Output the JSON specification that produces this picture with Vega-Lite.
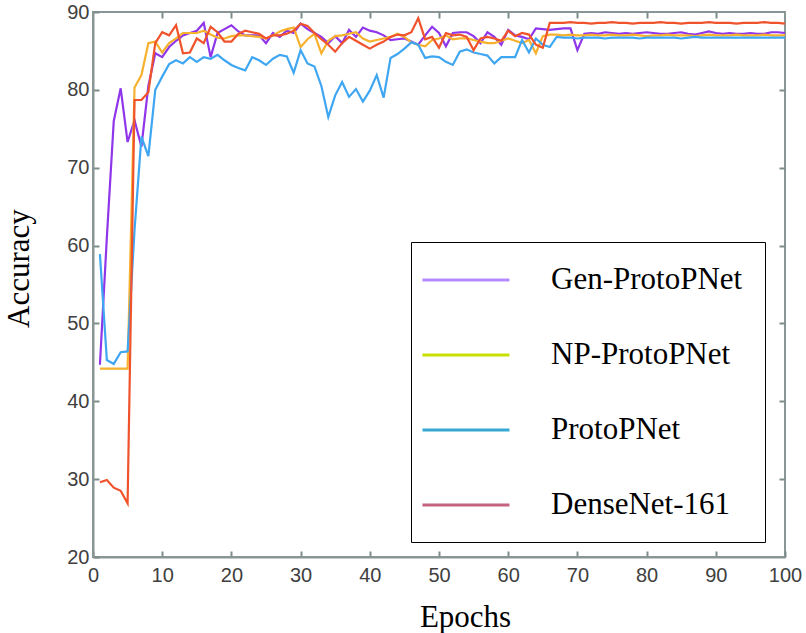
{
"$schema": "https://vega.github.io/schema/vega-lite/v6.json",
"width": 692, "height": 545,
"autosize": {"type": "none"},
"padding": {"left": 93, "top": 12, "right": 21, "bottom": 76},
"background": "white",
"config": {
 "view": {"stroke": "#8a9696", "strokeWidth": 2},
 "axis": {"grid": false, "labelFont": "Liberation Sans", "labelFontSize": 20, "labelColor": "#404040", "tickColor": "#7f8c8c", "tickWidth": 2, "domainColor": "#8a9696", "domainWidth": 2, "titleFont": "Liberation Serif", "titleFontSize": 31, "titleFontWeight": "normal", "titleColor": "black"}
},
"data": {"values": [
{"epoch":1,"model":"Gen-ProtoPNet","acc":44.7},{"epoch":2,"model":"Gen-ProtoPNet","acc":61},{"epoch":3,"model":"Gen-ProtoPNet","acc":76},{"epoch":4,"model":"Gen-ProtoPNet","acc":80.2},{"epoch":5,"model":"Gen-ProtoPNet","acc":73.3},{"epoch":6,"model":"Gen-ProtoPNet","acc":76.1},{"epoch":7,"model":"Gen-ProtoPNet","acc":72.7},{"epoch":8,"model":"Gen-ProtoPNet","acc":80.5},{"epoch":9,"model":"Gen-ProtoPNet","acc":84.7},{"epoch":10,"model":"Gen-ProtoPNet","acc":84.2},
{"epoch":11,"model":"Gen-ProtoPNet","acc":85.5},{"epoch":12,"model":"Gen-ProtoPNet","acc":86.3},{"epoch":13,"model":"Gen-ProtoPNet","acc":87},{"epoch":14,"model":"Gen-ProtoPNet","acc":87.3},{"epoch":15,"model":"Gen-ProtoPNet","acc":87.6},{"epoch":16,"model":"Gen-ProtoPNet","acc":88.6},{"epoch":17,"model":"Gen-ProtoPNet","acc":84.2},{"epoch":18,"model":"Gen-ProtoPNet","acc":87.3},{"epoch":19,"model":"Gen-ProtoPNet","acc":87.8},{"epoch":20,"model":"Gen-ProtoPNet","acc":88.3},
{"epoch":21,"model":"Gen-ProtoPNet","acc":87.5},{"epoch":22,"model":"Gen-ProtoPNet","acc":87},{"epoch":23,"model":"Gen-ProtoPNet","acc":87},{"epoch":24,"model":"Gen-ProtoPNet","acc":87},{"epoch":25,"model":"Gen-ProtoPNet","acc":86},{"epoch":26,"model":"Gen-ProtoPNet","acc":87.3},{"epoch":27,"model":"Gen-ProtoPNet","acc":86.8},{"epoch":28,"model":"Gen-ProtoPNet","acc":87.6},{"epoch":29,"model":"Gen-ProtoPNet","acc":87.3},{"epoch":30,"model":"Gen-ProtoPNet","acc":88.5},
{"epoch":31,"model":"Gen-ProtoPNet","acc":87.8},{"epoch":32,"model":"Gen-ProtoPNet","acc":87.3},{"epoch":33,"model":"Gen-ProtoPNet","acc":86.8},{"epoch":34,"model":"Gen-ProtoPNet","acc":86},{"epoch":35,"model":"Gen-ProtoPNet","acc":86.9},{"epoch":36,"model":"Gen-ProtoPNet","acc":86},{"epoch":37,"model":"Gen-ProtoPNet","acc":87.7},{"epoch":38,"model":"Gen-ProtoPNet","acc":86.8},{"epoch":39,"model":"Gen-ProtoPNet","acc":88},{"epoch":40,"model":"Gen-ProtoPNet","acc":87.6},
{"epoch":41,"model":"Gen-ProtoPNet","acc":87.4},{"epoch":42,"model":"Gen-ProtoPNet","acc":87},{"epoch":43,"model":"Gen-ProtoPNet","acc":86.4},{"epoch":44,"model":"Gen-ProtoPNet","acc":86.5},{"epoch":45,"model":"Gen-ProtoPNet","acc":86.6},{"epoch":46,"model":"Gen-ProtoPNet","acc":86.2},{"epoch":47,"model":"Gen-ProtoPNet","acc":85.8},{"epoch":48,"model":"Gen-ProtoPNet","acc":87},{"epoch":49,"model":"Gen-ProtoPNet","acc":88.1},{"epoch":50,"model":"Gen-ProtoPNet","acc":87.3},
{"epoch":51,"model":"Gen-ProtoPNet","acc":85.6},{"epoch":52,"model":"Gen-ProtoPNet","acc":87.3},{"epoch":53,"model":"Gen-ProtoPNet","acc":87.4},{"epoch":54,"model":"Gen-ProtoPNet","acc":87.4},{"epoch":55,"model":"Gen-ProtoPNet","acc":86.9},{"epoch":56,"model":"Gen-ProtoPNet","acc":86},{"epoch":57,"model":"Gen-ProtoPNet","acc":87.4},{"epoch":58,"model":"Gen-ProtoPNet","acc":86.8},{"epoch":59,"model":"Gen-ProtoPNet","acc":85.8},{"epoch":60,"model":"Gen-ProtoPNet","acc":87.7},
{"epoch":61,"model":"Gen-ProtoPNet","acc":87},{"epoch":62,"model":"Gen-ProtoPNet","acc":86.8},{"epoch":63,"model":"Gen-ProtoPNet","acc":86.5},{"epoch":64,"model":"Gen-ProtoPNet","acc":87.9},{"epoch":65,"model":"Gen-ProtoPNet","acc":87.8},{"epoch":66,"model":"Gen-ProtoPNet","acc":87.7},{"epoch":67,"model":"Gen-ProtoPNet","acc":87.8},{"epoch":68,"model":"Gen-ProtoPNet","acc":87.9},{"epoch":69,"model":"Gen-ProtoPNet","acc":87.9},{"epoch":70,"model":"Gen-ProtoPNet","acc":85.1},
{"epoch":71,"model":"Gen-ProtoPNet","acc":87.2},{"epoch":72,"model":"Gen-ProtoPNet","acc":87.3},{"epoch":73,"model":"Gen-ProtoPNet","acc":87.2},{"epoch":74,"model":"Gen-ProtoPNet","acc":87.4},{"epoch":75,"model":"Gen-ProtoPNet","acc":87.3},{"epoch":76,"model":"Gen-ProtoPNet","acc":87.2},{"epoch":77,"model":"Gen-ProtoPNet","acc":87.3},{"epoch":78,"model":"Gen-ProtoPNet","acc":87.2},{"epoch":79,"model":"Gen-ProtoPNet","acc":87.3},{"epoch":80,"model":"Gen-ProtoPNet","acc":87.4},
{"epoch":81,"model":"Gen-ProtoPNet","acc":87.3},{"epoch":82,"model":"Gen-ProtoPNet","acc":87.2},{"epoch":83,"model":"Gen-ProtoPNet","acc":87.2},{"epoch":84,"model":"Gen-ProtoPNet","acc":87.3},{"epoch":85,"model":"Gen-ProtoPNet","acc":87.4},{"epoch":86,"model":"Gen-ProtoPNet","acc":87.2},{"epoch":87,"model":"Gen-ProtoPNet","acc":87.1},{"epoch":88,"model":"Gen-ProtoPNet","acc":87.3},{"epoch":89,"model":"Gen-ProtoPNet","acc":87.5},{"epoch":90,"model":"Gen-ProtoPNet","acc":87.3},
{"epoch":91,"model":"Gen-ProtoPNet","acc":87.2},{"epoch":92,"model":"Gen-ProtoPNet","acc":87.3},{"epoch":93,"model":"Gen-ProtoPNet","acc":87.2},{"epoch":94,"model":"Gen-ProtoPNet","acc":87.2},{"epoch":95,"model":"Gen-ProtoPNet","acc":87.3},{"epoch":96,"model":"Gen-ProtoPNet","acc":87.2},{"epoch":97,"model":"Gen-ProtoPNet","acc":87.2},{"epoch":98,"model":"Gen-ProtoPNet","acc":87.4},{"epoch":99,"model":"Gen-ProtoPNet","acc":87.4},{"epoch":100,"model":"Gen-ProtoPNet","acc":87.3},
{"epoch":1,"model":"NP-ProtoPNet","acc":44.2},{"epoch":2,"model":"NP-ProtoPNet","acc":44.2},{"epoch":3,"model":"NP-ProtoPNet","acc":44.2},{"epoch":4,"model":"NP-ProtoPNet","acc":44.2},{"epoch":5,"model":"NP-ProtoPNet","acc":44.2},{"epoch":6,"model":"NP-ProtoPNet","acc":80.3},{"epoch":7,"model":"NP-ProtoPNet","acc":81.9},{"epoch":8,"model":"NP-ProtoPNet","acc":86},{"epoch":9,"model":"NP-ProtoPNet","acc":86.2},{"epoch":10,"model":"NP-ProtoPNet","acc":84.8},
{"epoch":11,"model":"NP-ProtoPNet","acc":86},{"epoch":12,"model":"NP-ProtoPNet","acc":86.6},{"epoch":13,"model":"NP-ProtoPNet","acc":87.3},{"epoch":14,"model":"NP-ProtoPNet","acc":87.3},{"epoch":15,"model":"NP-ProtoPNet","acc":87.3},{"epoch":16,"model":"NP-ProtoPNet","acc":87.6},{"epoch":17,"model":"NP-ProtoPNet","acc":87.1},{"epoch":18,"model":"NP-ProtoPNet","acc":86.7},{"epoch":19,"model":"NP-ProtoPNet","acc":86.6},{"epoch":20,"model":"NP-ProtoPNet","acc":86.9},
{"epoch":21,"model":"NP-ProtoPNet","acc":87},{"epoch":22,"model":"NP-ProtoPNet","acc":87},{"epoch":23,"model":"NP-ProtoPNet","acc":86.9},{"epoch":24,"model":"NP-ProtoPNet","acc":86.8},{"epoch":25,"model":"NP-ProtoPNet","acc":86.6},{"epoch":26,"model":"NP-ProtoPNet","acc":87},{"epoch":27,"model":"NP-ProtoPNet","acc":87.5},{"epoch":28,"model":"NP-ProtoPNet","acc":87.8},{"epoch":29,"model":"NP-ProtoPNet","acc":88},{"epoch":30,"model":"NP-ProtoPNet","acc":85.5},
{"epoch":31,"model":"NP-ProtoPNet","acc":86.5},{"epoch":32,"model":"NP-ProtoPNet","acc":87.2},{"epoch":33,"model":"NP-ProtoPNet","acc":84.7},{"epoch":34,"model":"NP-ProtoPNet","acc":86.3},{"epoch":35,"model":"NP-ProtoPNet","acc":86.9},{"epoch":36,"model":"NP-ProtoPNet","acc":87},{"epoch":37,"model":"NP-ProtoPNet","acc":87.2},{"epoch":38,"model":"NP-ProtoPNet","acc":87.4},{"epoch":39,"model":"NP-ProtoPNet","acc":86.6},{"epoch":40,"model":"NP-ProtoPNet","acc":86.2},
{"epoch":41,"model":"NP-ProtoPNet","acc":86.4},{"epoch":42,"model":"NP-ProtoPNet","acc":86.6},{"epoch":43,"model":"NP-ProtoPNet","acc":86.8},{"epoch":44,"model":"NP-ProtoPNet","acc":87.2},{"epoch":45,"model":"NP-ProtoPNet","acc":86.8},{"epoch":46,"model":"NP-ProtoPNet","acc":86.1},{"epoch":47,"model":"NP-ProtoPNet","acc":85.8},{"epoch":48,"model":"NP-ProtoPNet","acc":85.6},{"epoch":49,"model":"NP-ProtoPNet","acc":86.4},{"epoch":50,"model":"NP-ProtoPNet","acc":86.6},
{"epoch":51,"model":"NP-ProtoPNet","acc":87},{"epoch":52,"model":"NP-ProtoPNet","acc":86.5},{"epoch":53,"model":"NP-ProtoPNet","acc":86.6},{"epoch":54,"model":"NP-ProtoPNet","acc":86.6},{"epoch":55,"model":"NP-ProtoPNet","acc":86.4},{"epoch":56,"model":"NP-ProtoPNet","acc":86.2},{"epoch":57,"model":"NP-ProtoPNet","acc":86},{"epoch":58,"model":"NP-ProtoPNet","acc":86},{"epoch":59,"model":"NP-ProtoPNet","acc":86.3},{"epoch":60,"model":"NP-ProtoPNet","acc":86.6},
{"epoch":61,"model":"NP-ProtoPNet","acc":86.3},{"epoch":62,"model":"NP-ProtoPNet","acc":86},{"epoch":63,"model":"NP-ProtoPNet","acc":86.4},{"epoch":64,"model":"NP-ProtoPNet","acc":84.7},{"epoch":65,"model":"NP-ProtoPNet","acc":86.9},{"epoch":66,"model":"NP-ProtoPNet","acc":87.1},{"epoch":67,"model":"NP-ProtoPNet","acc":87.1},{"epoch":68,"model":"NP-ProtoPNet","acc":87},{"epoch":69,"model":"NP-ProtoPNet","acc":87.1},{"epoch":70,"model":"NP-ProtoPNet","acc":87},
{"epoch":71,"model":"NP-ProtoPNet","acc":87},{"epoch":72,"model":"NP-ProtoPNet","acc":87.1},{"epoch":73,"model":"NP-ProtoPNet","acc":87},{"epoch":74,"model":"NP-ProtoPNet","acc":87},{"epoch":75,"model":"NP-ProtoPNet","acc":87.1},{"epoch":76,"model":"NP-ProtoPNet","acc":87},{"epoch":77,"model":"NP-ProtoPNet","acc":87},{"epoch":78,"model":"NP-ProtoPNet","acc":87.1},{"epoch":79,"model":"NP-ProtoPNet","acc":87},{"epoch":80,"model":"NP-ProtoPNet","acc":86.9},
{"epoch":81,"model":"NP-ProtoPNet","acc":87},{"epoch":82,"model":"NP-ProtoPNet","acc":87},{"epoch":83,"model":"NP-ProtoPNet","acc":87.1},{"epoch":84,"model":"NP-ProtoPNet","acc":87},{"epoch":85,"model":"NP-ProtoPNet","acc":87},{"epoch":86,"model":"NP-ProtoPNet","acc":87},{"epoch":87,"model":"NP-ProtoPNet","acc":86.9},{"epoch":88,"model":"NP-ProtoPNet","acc":87},{"epoch":89,"model":"NP-ProtoPNet","acc":87.1},{"epoch":90,"model":"NP-ProtoPNet","acc":87},
{"epoch":91,"model":"NP-ProtoPNet","acc":87},{"epoch":92,"model":"NP-ProtoPNet","acc":87},{"epoch":93,"model":"NP-ProtoPNet","acc":87.1},{"epoch":94,"model":"NP-ProtoPNet","acc":87},{"epoch":95,"model":"NP-ProtoPNet","acc":87},{"epoch":96,"model":"NP-ProtoPNet","acc":87},{"epoch":97,"model":"NP-ProtoPNet","acc":87.1},{"epoch":98,"model":"NP-ProtoPNet","acc":87},{"epoch":99,"model":"NP-ProtoPNet","acc":87},{"epoch":100,"model":"NP-ProtoPNet","acc":87},
{"epoch":1,"model":"ProtoPNet","acc":58.9},{"epoch":2,"model":"ProtoPNet","acc":45.3},{"epoch":3,"model":"ProtoPNet","acc":44.8},{"epoch":4,"model":"ProtoPNet","acc":46.3},{"epoch":5,"model":"ProtoPNet","acc":46.4},{"epoch":6,"model":"ProtoPNet","acc":62},{"epoch":7,"model":"ProtoPNet","acc":74},{"epoch":8,"model":"ProtoPNet","acc":71.5},{"epoch":9,"model":"ProtoPNet","acc":80},{"epoch":10,"model":"ProtoPNet","acc":81.7},
{"epoch":11,"model":"ProtoPNet","acc":83.3},{"epoch":12,"model":"ProtoPNet","acc":83.8},{"epoch":13,"model":"ProtoPNet","acc":83.4},{"epoch":14,"model":"ProtoPNet","acc":84.2},{"epoch":15,"model":"ProtoPNet","acc":83.6},{"epoch":16,"model":"ProtoPNet","acc":84.2},{"epoch":17,"model":"ProtoPNet","acc":84},{"epoch":18,"model":"ProtoPNet","acc":84.5},{"epoch":19,"model":"ProtoPNet","acc":83.8},{"epoch":20,"model":"ProtoPNet","acc":83.2},
{"epoch":21,"model":"ProtoPNet","acc":82.8},{"epoch":22,"model":"ProtoPNet","acc":82.5},{"epoch":23,"model":"ProtoPNet","acc":84.2},{"epoch":24,"model":"ProtoPNet","acc":83.8},{"epoch":25,"model":"ProtoPNet","acc":83.2},{"epoch":26,"model":"ProtoPNet","acc":84},{"epoch":27,"model":"ProtoPNet","acc":84.5},{"epoch":28,"model":"ProtoPNet","acc":84.3},{"epoch":29,"model":"ProtoPNet","acc":82.2},{"epoch":30,"model":"ProtoPNet","acc":85.1},
{"epoch":31,"model":"ProtoPNet","acc":83.4},{"epoch":32,"model":"ProtoPNet","acc":83},{"epoch":33,"model":"ProtoPNet","acc":80.5},{"epoch":34,"model":"ProtoPNet","acc":76.5},{"epoch":35,"model":"ProtoPNet","acc":79.3},{"epoch":36,"model":"ProtoPNet","acc":81},{"epoch":37,"model":"ProtoPNet","acc":79.1},{"epoch":38,"model":"ProtoPNet","acc":80.1},{"epoch":39,"model":"ProtoPNet","acc":78.5},{"epoch":40,"model":"ProtoPNet","acc":79.9},
{"epoch":41,"model":"ProtoPNet","acc":81.9},{"epoch":42,"model":"ProtoPNet","acc":79},{"epoch":43,"model":"ProtoPNet","acc":84.1},{"epoch":44,"model":"ProtoPNet","acc":84.6},{"epoch":45,"model":"ProtoPNet","acc":85.3},{"epoch":46,"model":"ProtoPNet","acc":86.1},{"epoch":47,"model":"ProtoPNet","acc":85.8},{"epoch":48,"model":"ProtoPNet","acc":84.1},{"epoch":49,"model":"ProtoPNet","acc":84.3},{"epoch":50,"model":"ProtoPNet","acc":84.2},
{"epoch":51,"model":"ProtoPNet","acc":83.6},{"epoch":52,"model":"ProtoPNet","acc":83.2},{"epoch":53,"model":"ProtoPNet","acc":84.9},{"epoch":54,"model":"ProtoPNet","acc":85.2},{"epoch":55,"model":"ProtoPNet","acc":84.8},{"epoch":56,"model":"ProtoPNet","acc":84.6},{"epoch":57,"model":"ProtoPNet","acc":84.4},{"epoch":58,"model":"ProtoPNet","acc":83.4},{"epoch":59,"model":"ProtoPNet","acc":84.2},{"epoch":60,"model":"ProtoPNet","acc":84.2},
{"epoch":61,"model":"ProtoPNet","acc":84.2},{"epoch":62,"model":"ProtoPNet","acc":86.4},{"epoch":63,"model":"ProtoPNet","acc":84.8},{"epoch":64,"model":"ProtoPNet","acc":86.6},{"epoch":65,"model":"ProtoPNet","acc":85.8},{"epoch":66,"model":"ProtoPNet","acc":85.5},{"epoch":67,"model":"ProtoPNet","acc":86.8},{"epoch":68,"model":"ProtoPNet","acc":86.7},{"epoch":69,"model":"ProtoPNet","acc":86.7},{"epoch":70,"model":"ProtoPNet","acc":86.6},
{"epoch":71,"model":"ProtoPNet","acc":86.7},{"epoch":72,"model":"ProtoPNet","acc":86.7},{"epoch":73,"model":"ProtoPNet","acc":86.7},{"epoch":74,"model":"ProtoPNet","acc":86.6},{"epoch":75,"model":"ProtoPNet","acc":86.7},{"epoch":76,"model":"ProtoPNet","acc":86.7},{"epoch":77,"model":"ProtoPNet","acc":86.7},{"epoch":78,"model":"ProtoPNet","acc":86.7},{"epoch":79,"model":"ProtoPNet","acc":86.6},{"epoch":80,"model":"ProtoPNet","acc":86.7},
{"epoch":81,"model":"ProtoPNet","acc":86.7},{"epoch":82,"model":"ProtoPNet","acc":86.7},{"epoch":83,"model":"ProtoPNet","acc":86.7},{"epoch":84,"model":"ProtoPNet","acc":86.7},{"epoch":85,"model":"ProtoPNet","acc":86.6},{"epoch":86,"model":"ProtoPNet","acc":86.7},{"epoch":87,"model":"ProtoPNet","acc":86.8},{"epoch":88,"model":"ProtoPNet","acc":86.7},{"epoch":89,"model":"ProtoPNet","acc":86.7},{"epoch":90,"model":"ProtoPNet","acc":86.7},
{"epoch":91,"model":"ProtoPNet","acc":86.7},{"epoch":92,"model":"ProtoPNet","acc":86.7},{"epoch":93,"model":"ProtoPNet","acc":86.7},{"epoch":94,"model":"ProtoPNet","acc":86.7},{"epoch":95,"model":"ProtoPNet","acc":86.7},{"epoch":96,"model":"ProtoPNet","acc":86.7},{"epoch":97,"model":"ProtoPNet","acc":86.7},{"epoch":98,"model":"ProtoPNet","acc":86.7},{"epoch":99,"model":"ProtoPNet","acc":86.7},{"epoch":100,"model":"ProtoPNet","acc":86.7},
{"epoch":1,"model":"DenseNet-161","acc":29.6},{"epoch":2,"model":"DenseNet-161","acc":29.9},{"epoch":3,"model":"DenseNet-161","acc":28.9},{"epoch":4,"model":"DenseNet-161","acc":28.5},{"epoch":5,"model":"DenseNet-161","acc":26.9},{"epoch":6,"model":"DenseNet-161","acc":78.7},{"epoch":7,"model":"DenseNet-161","acc":78.7},{"epoch":8,"model":"DenseNet-161","acc":79.7},{"epoch":9,"model":"DenseNet-161","acc":86},{"epoch":10,"model":"DenseNet-161","acc":87.4},
{"epoch":11,"model":"DenseNet-161","acc":87},{"epoch":12,"model":"DenseNet-161","acc":88.3},{"epoch":13,"model":"DenseNet-161","acc":84.7},{"epoch":14,"model":"DenseNet-161","acc":84.8},{"epoch":15,"model":"DenseNet-161","acc":86.6},{"epoch":16,"model":"DenseNet-161","acc":86},{"epoch":17,"model":"DenseNet-161","acc":88.1},{"epoch":18,"model":"DenseNet-161","acc":87.4},{"epoch":19,"model":"DenseNet-161","acc":86.2},{"epoch":20,"model":"DenseNet-161","acc":86.2},
{"epoch":21,"model":"DenseNet-161","acc":87.2},{"epoch":22,"model":"DenseNet-161","acc":87.6},{"epoch":23,"model":"DenseNet-161","acc":87.4},{"epoch":24,"model":"DenseNet-161","acc":87.2},{"epoch":25,"model":"DenseNet-161","acc":86.6},{"epoch":26,"model":"DenseNet-161","acc":87},{"epoch":27,"model":"DenseNet-161","acc":87},{"epoch":28,"model":"DenseNet-161","acc":87.2},{"epoch":29,"model":"DenseNet-161","acc":87.6},{"epoch":30,"model":"DenseNet-161","acc":88.5},
{"epoch":31,"model":"DenseNet-161","acc":88.2},{"epoch":32,"model":"DenseNet-161","acc":87.3},{"epoch":33,"model":"DenseNet-161","acc":86.5},{"epoch":34,"model":"DenseNet-161","acc":85.8},{"epoch":35,"model":"DenseNet-161","acc":84.9},{"epoch":36,"model":"DenseNet-161","acc":86},{"epoch":37,"model":"DenseNet-161","acc":86.8},{"epoch":38,"model":"DenseNet-161","acc":86.3},{"epoch":39,"model":"DenseNet-161","acc":85.8},{"epoch":40,"model":"DenseNet-161","acc":85.3},
{"epoch":41,"model":"DenseNet-161","acc":85.8},{"epoch":42,"model":"DenseNet-161","acc":86.2},{"epoch":43,"model":"DenseNet-161","acc":86.8},{"epoch":44,"model":"DenseNet-161","acc":87.1},{"epoch":45,"model":"DenseNet-161","acc":87},{"epoch":46,"model":"DenseNet-161","acc":87.4},{"epoch":47,"model":"DenseNet-161","acc":89.2},{"epoch":48,"model":"DenseNet-161","acc":86.5},{"epoch":49,"model":"DenseNet-161","acc":86.8},{"epoch":50,"model":"DenseNet-161","acc":85.4},
{"epoch":51,"model":"DenseNet-161","acc":87.3},{"epoch":52,"model":"DenseNet-161","acc":87},{"epoch":53,"model":"DenseNet-161","acc":87.1},{"epoch":54,"model":"DenseNet-161","acc":86.8},{"epoch":55,"model":"DenseNet-161","acc":85.1},{"epoch":56,"model":"DenseNet-161","acc":86.6},{"epoch":57,"model":"DenseNet-161","acc":86.8},{"epoch":58,"model":"DenseNet-161","acc":86.6},{"epoch":59,"model":"DenseNet-161","acc":86.3},{"epoch":60,"model":"DenseNet-161","acc":87.6},
{"epoch":61,"model":"DenseNet-161","acc":86.9},{"epoch":62,"model":"DenseNet-161","acc":87.3},{"epoch":63,"model":"DenseNet-161","acc":87.1},{"epoch":64,"model":"DenseNet-161","acc":85.8},{"epoch":65,"model":"DenseNet-161","acc":85.4},{"epoch":66,"model":"DenseNet-161","acc":88.6},{"epoch":67,"model":"DenseNet-161","acc":88.6},{"epoch":68,"model":"DenseNet-161","acc":88.6},{"epoch":69,"model":"DenseNet-161","acc":88.7},{"epoch":70,"model":"DenseNet-161","acc":88.6},
{"epoch":71,"model":"DenseNet-161","acc":88.6},{"epoch":72,"model":"DenseNet-161","acc":88.5},{"epoch":73,"model":"DenseNet-161","acc":88.6},{"epoch":74,"model":"DenseNet-161","acc":88.6},{"epoch":75,"model":"DenseNet-161","acc":88.7},{"epoch":76,"model":"DenseNet-161","acc":88.6},{"epoch":77,"model":"DenseNet-161","acc":88.6},{"epoch":78,"model":"DenseNet-161","acc":88.5},{"epoch":79,"model":"DenseNet-161","acc":88.6},{"epoch":80,"model":"DenseNet-161","acc":88.6},
{"epoch":81,"model":"DenseNet-161","acc":88.6},{"epoch":82,"model":"DenseNet-161","acc":88.7},{"epoch":83,"model":"DenseNet-161","acc":88.6},{"epoch":84,"model":"DenseNet-161","acc":88.6},{"epoch":85,"model":"DenseNet-161","acc":88.5},{"epoch":86,"model":"DenseNet-161","acc":88.6},{"epoch":87,"model":"DenseNet-161","acc":88.6},{"epoch":88,"model":"DenseNet-161","acc":88.6},{"epoch":89,"model":"DenseNet-161","acc":88.7},{"epoch":90,"model":"DenseNet-161","acc":88.6},
{"epoch":91,"model":"DenseNet-161","acc":88.6},{"epoch":92,"model":"DenseNet-161","acc":88.6},{"epoch":93,"model":"DenseNet-161","acc":88.5},{"epoch":94,"model":"DenseNet-161","acc":88.6},{"epoch":95,"model":"DenseNet-161","acc":88.6},{"epoch":96,"model":"DenseNet-161","acc":88.6},{"epoch":97,"model":"DenseNet-161","acc":88.7},{"epoch":98,"model":"DenseNet-161","acc":88.6},{"epoch":99,"model":"DenseNet-161","acc":88.6},{"epoch":100,"model":"DenseNet-161","acc":88.5}
]},
"layer": [
 {"mark": {"type": "line", "strokeWidth": 2.2},
  "encoding": {
   "x": {"field": "epoch", "type": "quantitative", "scale": {"domain": [0, 100], "nice": false},
         "axis": {"orient": "bottom", "values": [0,10,20,30,40,50,60,70,80,90,100], "tickSize": -6, "labelPadding": 14, "labelFlush": false, "title": "Epochs", "titleX": 372, "titleY": 69, "titleAlign": "center", "titleBaseline": "alphabetic"}},
   "y": {"field": "acc", "type": "quantitative", "scale": {"domain": [20, 90], "nice": false, "zero": false},
         "axis": {"orient": "left", "values": [20,30,40,50,60,70,80,90], "tickSize": -6, "labelPadding": 10, "labelFlush": false, "title": "Accuracy", "titleX": -65, "titleY": 256, "titleAlign": "center", "titleBaseline": "alphabetic", "titleAngle": -90}},
   "color": {"field": "model", "type": "nominal",
     "scale": {"domain": ["Gen-ProtoPNet", "NP-ProtoPNet", "ProtoPNet", "DenseNet-161"], "range": ["#8f35ea", "#f6b22e", "#3fa6f2", "#f0532c"]},
     "legend": null}
  }},
 {"transform": [{"filter": "datum.epoch < 0"}],
  "mark": {"type": "line", "strokeWidth": 3},
  "encoding": {
   "x": {"field": "epoch", "type": "quantitative", "axis": {"orient": "top", "values": [10,20,30,40,50,60,70,80,90], "labels": false, "domain": false, "tickSize": -6, "title": null}},
   "y": {"field": "acc", "type": "quantitative", "axis": {"orient": "right", "values": [30,40,50,60,70,80], "labels": false, "domain": false, "tickSize": -6, "title": null}},
   "color": {"field": "model", "type": "nominal",
     "scale": {"domain": ["Gen-ProtoPNet", "NP-ProtoPNet", "ProtoPNet", "DenseNet-161"], "range": ["#b58cff", "#c8e000", "#36a9d2", "#c4627f"]},
     "legend": {"orient": "none", "legendX": 318, "legendY": 230, "title": null, "padding": 22, "strokeColor": "black", "fillColor": "white",
       "symbolType": "M-1.83,0H4.17", "symbolSize": 841, "symbolStrokeWidth": 3, "labelFont": "Liberation Serif", "labelFontSize": 31, "labelColor": "black", "labelOffset": 86, "labelLimit": 400, "rowPadding": 44, "direction": "vertical"}}
  }}
],
"resolve": {"scale": {"color": "independent"}, "axis": {"x": "independent", "y": "independent"}}
}
